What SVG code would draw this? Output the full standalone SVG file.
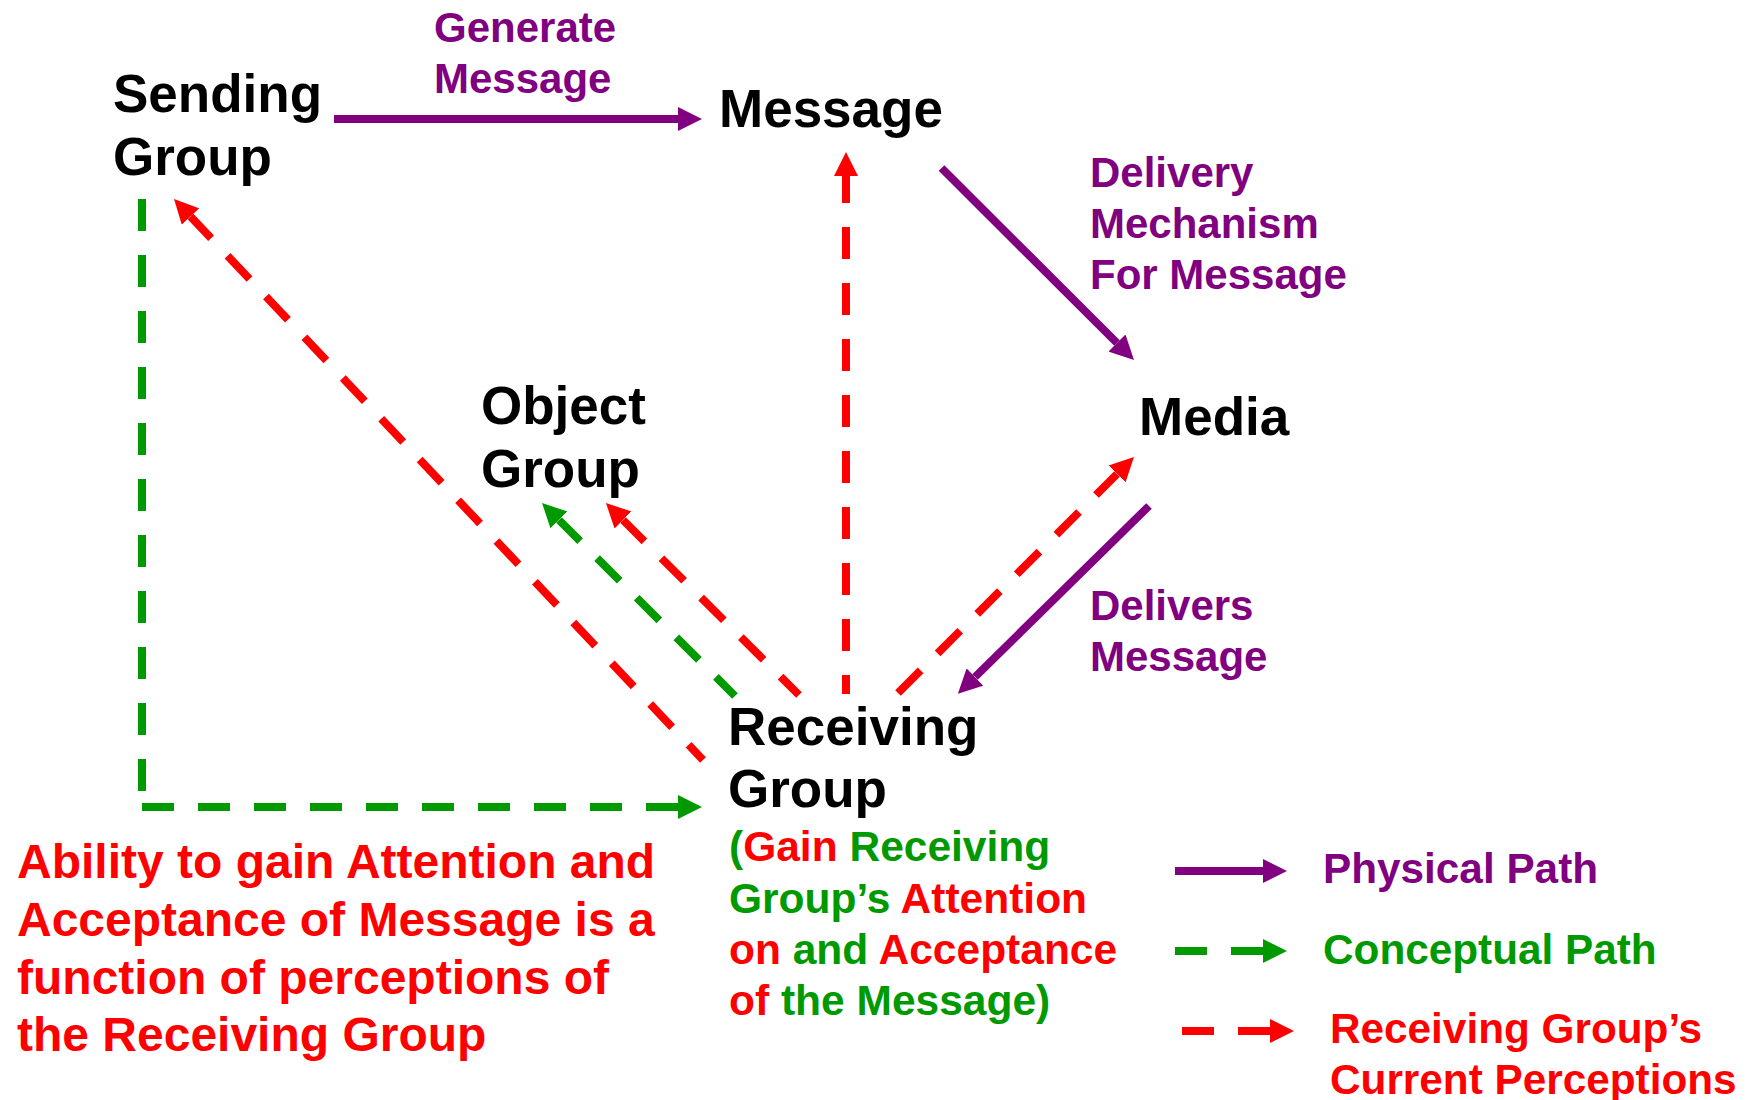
<svg xmlns="http://www.w3.org/2000/svg" width="1758" height="1100" viewBox="0 0 1758 1100">
<style>
text{font-family:"Liberation Sans",Arial,sans-serif;font-weight:bold}
.node{font-size:53px;fill:#000}
.lbl{font-size:42px;fill:#800080}
.g{fill:#009900}
.r{fill:#FF0000}
.note{font-size:48px;fill:#FF0000}
.ann{font-size:42.5px}
.leg{font-size:42.3px}
.phys{stroke:#800080;stroke-width:8;fill:none;marker-end:url(#hp)}
.conc{stroke:#009900;stroke-width:8;fill:none;stroke-dasharray:32 24}
.perc{stroke:#FF0000;stroke-width:8;fill:none;stroke-dasharray:32 24;marker-end:url(#hr)}
</style>
<defs>
<marker id="hp" markerUnits="userSpaceOnUse" markerWidth="24" markerHeight="24" refX="0" refY="12" orient="auto"><path d="M0,0 L24,12 L0,24 Z" fill="#800080"/></marker>
<marker id="hg" markerUnits="userSpaceOnUse" markerWidth="24" markerHeight="24" refX="0" refY="12" orient="auto"><path d="M0,0 L24,12 L0,24 Z" fill="#009900"/></marker>
<marker id="hr" markerUnits="userSpaceOnUse" markerWidth="24" markerHeight="24" refX="0" refY="12" orient="auto"><path d="M0,0 L24,12 L0,24 Z" fill="#FF0000"/></marker>
</defs>
<rect width="1758" height="1100" fill="#fff"/>

<g id="connectors">
<line class="phys" x1="334" y1="119" x2="678" y2="119"/>
<line class="phys" x1="941.5" y1="168" x2="1117" y2="343"/>
<line class="phys" x1="1149" y1="506" x2="975" y2="677"/>
<line class="perc" x1="846" y1="694" x2="846" y2="176" stroke-dashoffset="13"/>
<line class="perc" x1="703" y1="760" x2="190.5" y2="216.5" stroke-dashoffset="11"/>
<line class="conc" x1="735" y1="696" x2="559" y2="520" stroke-dashoffset="5" marker-end="url(#hg)"/>
<line class="perc" x1="799" y1="695" x2="623" y2="520" stroke-dashoffset="6"/>
<line class="perc" x1="898" y1="693" x2="1117" y2="474"/>
<line class="conc" x1="142" y1="199" x2="142" y2="791"/>
<line class="conc" x1="142" y1="807" x2="678" y2="807" marker-end="url(#hg)"/>
</g>

<g id="sending-group"><text class="node" x="113" y="112">Sending</text><text class="node" x="113" y="175">Group</text></g>
<g id="message"><text class="node" x="719" y="127">Message</text></g>
<g id="media"><text class="node" x="1139" y="435">Media</text></g>
<g id="object-group"><text class="node" x="481" y="424">Object</text><text class="node" x="481" y="487">Group</text></g>
<g id="receiving-group"><text class="node" x="728" y="745">Receiving</text><text class="node" x="728" y="807">Group</text>
<text class="ann" x="729" y="861"><tspan class="g">(</tspan><tspan class="r">Gain</tspan><tspan class="g"> Receiving</tspan></text>
<text class="ann" x="729" y="913"><tspan class="g">Group’s </tspan><tspan class="r">Attention</tspan></text>
<text class="ann" x="729" y="964"><tspan class="r">on </tspan><tspan class="g">and </tspan><tspan class="r">Acceptance</tspan></text>
<text class="ann" x="729" y="1015"><tspan class="r">of </tspan><tspan class="g">the Message)</tspan></text>
</g>

<g id="labels">
<text class="lbl" x="434" y="42">Generate</text><text class="lbl" x="434" y="93">Message</text>
<text class="lbl" x="1090" y="187">Delivery</text><text class="lbl" x="1090" y="238">Mechanism</text><text class="lbl" x="1090" y="289">For Message</text>
<text class="lbl" x="1090" y="620">Delivers</text><text class="lbl" x="1090" y="671">Message</text>
</g>

<g id="note">
<text class="note" x="17" y="878">Ability to gain Attention and</text>
<text class="note" x="17" y="936">Acceptance of Message is a</text>
<text class="note" x="17" y="994">function of perceptions of</text>
<text class="note" x="17" y="1051">the Receiving Group</text>
</g>

<g id="legend">
<line class="phys" x1="1175" y1="871" x2="1263" y2="871"/>
<text class="leg" x="1323" y="883" fill="#800080">Physical Path</text>
<line class="conc" x1="1175" y1="951" x2="1263" y2="951" marker-end="url(#hg)"/>
<text class="leg g" x="1323" y="964">Conceptual Path</text>
<line class="perc" x1="1182" y1="1031" x2="1270" y2="1031"/>
<text class="leg r" x="1330" y="1043">Receiving Group’s</text>
<text class="leg r" x="1330" y="1094">Current Perceptions</text>
</g>
</svg>
